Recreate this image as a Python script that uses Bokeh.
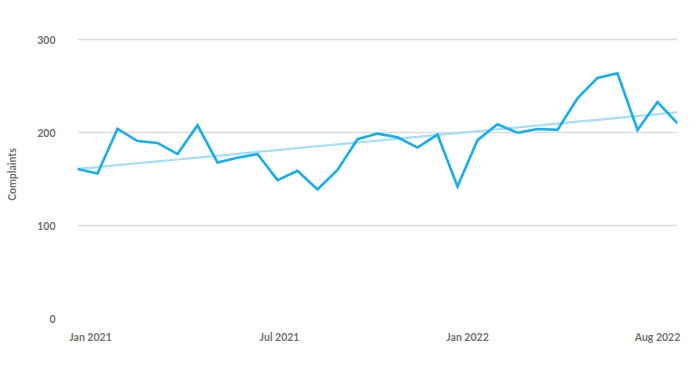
import numpy as np
from bokeh.plotting import figure
from bokeh.models import ColumnDataSource, FixedTicker, Range1d
from bokeh.embed import file_html
from bokeh.resources import INLINE

# Data
complaints = [161, 156, 204, 191, 189, 177, 208, 168, 173, 177,
              149, 159, 139, 160, 193, 199, 195, 184, 198, 142,
              192, 209, 200, 204, 203, 237, 259, 264, 203, 233, 210]
x_tick_positions = [0.65, 10.1, 19.5, 29.0]
x_tick_labels = ["Jan 2021", "Jul 2021", "Jan 2022", "Aug 2022"]
y_ticks = [0, 100, 200, 300]

idx = np.arange(len(complaints))
slope, intercept = np.polyfit(idx, complaints, 1)
trend = intercept + slope * idx

src = ColumnDataSource(dict(x=idx, y=complaints, t=trend))

p = figure(width=700, height=377, output_backend="svg", toolbar_location=None,
           x_range=Range1d(0, len(complaints) - 1), y_range=Range1d(0, 310),
           min_border_left=77, min_border_right=23, min_border_top=30, min_border_bottom=59)
p.outline_line_color = None
p.background_fill_color = "white"

p.line("x", "t", source=src, line_color="#a6ddf7", line_width=2.2)
p.line("x", "y", source=src, line_color="#19aeeb", line_width=2.6, line_join="miter")

font = "Lato"
txt_color = "#707070"
# y axis
p.yaxis.ticker = FixedTicker(ticks=y_ticks)
p.yaxis.axis_line_color = None
p.yaxis.major_tick_line_color = None
p.yaxis.minor_tick_line_color = None
p.yaxis.major_label_standoff = 16
p.yaxis.major_label_text_font = font
p.yaxis.major_label_text_font_style = "bold"
p.yaxis.major_label_text_font_size = "10.5px"
p.yaxis.major_label_text_color = txt_color
p.yaxis.axis_label = "Complaints"
p.yaxis.axis_label_text_font = font
p.yaxis.axis_label_text_font_style = "bold"
p.yaxis.axis_label_text_font_size = "10.5px"
p.yaxis.axis_label_text_color = txt_color
p.yaxis.axis_label_standoff = 16

# x axis
p.xaxis.ticker = FixedTicker(ticks=x_tick_positions)
p.xaxis.major_label_overrides = {pos: lab for pos, lab in zip(x_tick_positions, x_tick_labels)}
p.xaxis.axis_line_color = None
p.xaxis.major_tick_line_color = None
p.xaxis.minor_tick_line_color = None
p.xaxis.major_label_standoff = 6
p.xaxis.major_label_text_font = font
p.xaxis.major_label_text_font_style = "bold"
p.xaxis.major_label_text_font_size = "10.5px"
p.xaxis.major_label_text_color = txt_color

p.xgrid.grid_line_color = None
p.ygrid.grid_line_color = "#dcdcdc"
p.ygrid.grid_line_width = 1.5

open("out.html", "w").write(file_html(p, INLINE))
